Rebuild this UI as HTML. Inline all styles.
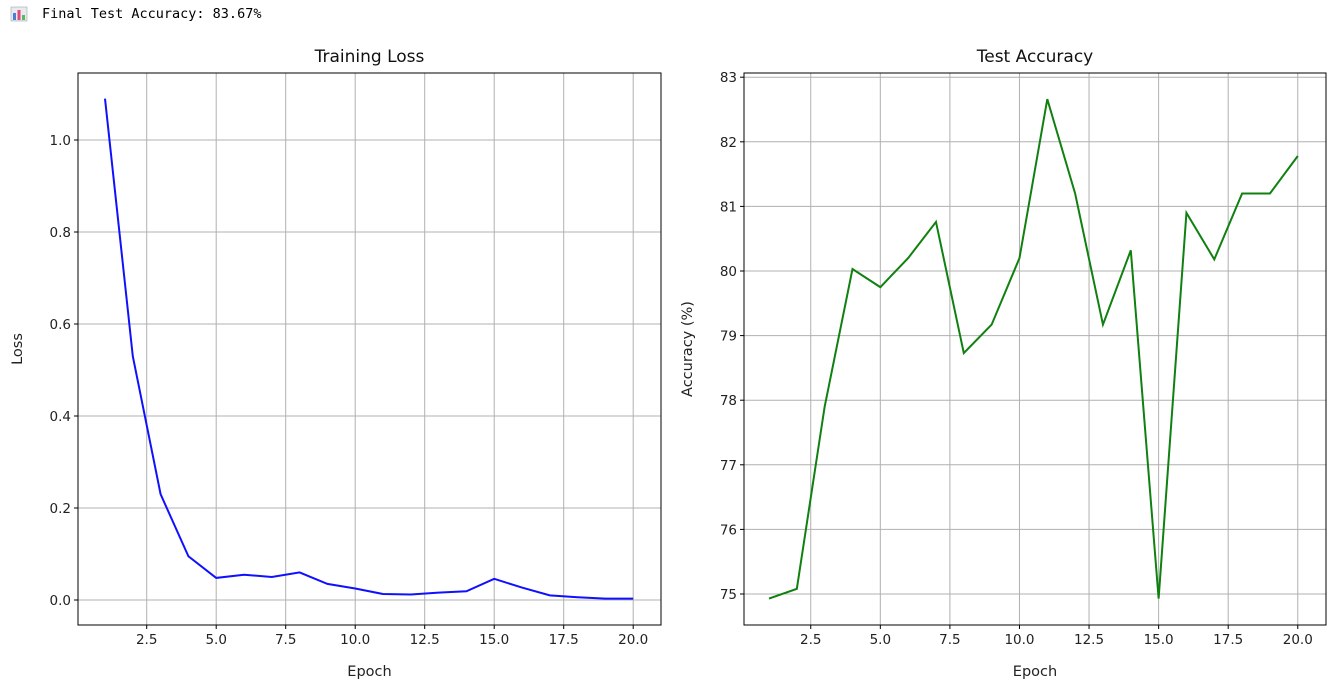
<!DOCTYPE html>
<html><head><meta charset="utf-8"><style>
body{margin:0;background:#fff;width:1328px;height:685px;overflow:hidden;font-family:"DejaVu Sans","Liberation Sans",sans-serif}
#hdr{position:absolute;left:10px;top:6px;font-family:"DejaVu Sans Mono","Liberation Mono",monospace;font-size:13.5px;color:#000;display:flex;align-items:center}
</style></head><body>
<div id="hdr">
<svg width="18" height="16"><rect x="1" y="1" width="16" height="14" fill="#e8eaf0" stroke="#9aa" stroke-width="0.6"/><rect x="3" y="7" width="3" height="7" fill="#4a7fd6"/><rect x="7.5" y="4" width="3" height="10" fill="#e04a7a"/><rect x="12" y="9" width="3" height="5" fill="#5bb85b"/></svg>
<span style="margin-left:14px">Final Test Accuracy: 83.67%</span></div>
<svg id="c" width="1328" height="685" style="position:absolute;left:0;top:0"></svg>
<script>
const epochs=[1,2,3,4,5,6,7,8,9,10,11,12,13,14,15,16,17,18,19,20];
const lossValues=[1.09,0.53,0.23,0.095,0.048,0.055,0.05,0.06,0.035,0.025,0.013,0.012,0.016,0.019,0.046,0.027,0.01,0.006,0.003,0.003];
const accValues=[74.93,75.08,77.9,80.03,79.75,80.2,80.76,78.73,79.17,80.2,82.66,81.2,79.17,80.32,74.93,80.9,80.18,81.2,81.2,81.78];
const xTicks=[2.5,5.0,7.5,10.0,12.5,15.0,17.5,20.0];
const lossTicks=[0.0,0.2,0.4,0.6,0.8,1.0];
const accTicks=[75,76,77,78,79,80,81,82,83];
const svg=document.getElementById('c');const NS='http://www.w3.org/2000/svg';
function mk(t,a,txt){const e=document.createElementNS(NS,t);for(const k in a)e.setAttribute(k,a[k]);if(txt!==undefined)e.textContent=txt;svg.appendChild(e);return e;}
function chart(o){
 const sx=v=>o.x1+(v-1)*o.ux;const sy=v=>o.y0-(v-o.v0)*o.uy;
 xTicks.forEach(t=>{const l=mk('line',{x1:sx(t),x2:sx(t),y1:o.top,y2:o.bot,stroke:'#b0b0b0','stroke-width':1});
  mk('line',{x1:sx(t),x2:sx(t),y1:o.bot,y2:o.bot+4,stroke:'#000'});
  const tx=mk('text',{x:sx(t),y:o.bot+19,'text-anchor':'middle','font-size':13.5,fill:'#222'},t.toFixed(1));});
 o.yt.forEach(t=>{const l=mk('line',{x1:o.left,x2:o.right,y1:sy(t),y2:sy(t),stroke:'#b0b0b0','stroke-width':1});
  mk('line',{x1:o.left-4,x2:o.left,y1:sy(t),y2:sy(t),stroke:'#000'});
  const tx=mk('text',{x:o.left-7,y:sy(t)+5,'text-anchor':'end','font-size':13.5,fill:'#222'},o.fmt(t));});
 const p=mk('polyline',{points:epochs.map((e,i)=>sx(e)+','+sy(o.data[i])).join(' '),fill:'none',stroke:o.color,'stroke-width':2});
 
 const r=mk('rect',{x:o.left,y:o.top,width:o.right-o.left,height:o.bot-o.top,fill:'none',stroke:'#000','stroke-width':1});
 const ti=mk('text',{x:(o.left+o.right)/2,y:o.top-11,'text-anchor':'middle','font-size':17,fill:'#111'},o.title);
 const xl=mk('text',{x:(o.left+o.right)/2,y:o.bot+51,'text-anchor':'middle','font-size':14.5,fill:'#222'},'Epoch');
 const cy=(o.top+o.bot)/2;const yl=mk('text',{x:o.ylx,y:cy,'text-anchor':'middle','font-size':14.5,fill:'#222',transform:`rotate(-90 ${o.ylx} ${cy})`},o.ylabel);
}
chart({left:78,right:661,top:73,bot:625,x1:105,ux:27.8,y0:600,v0:0,uy:460,yt:lossTicks,fmt:v=>v.toFixed(1),data:lossValues,color:'#1010ff',title:'Training Loss',ylabel:'Loss',ylx:22,name:'loss'});
chart({left:744,right:1326,top:73,bot:625,x1:769,ux:27.83,y0:594,v0:75,uy:64.6,yt:accTicks,fmt:v=>String(v),data:accValues,color:'#108010',title:'Test Accuracy',ylabel:'Accuracy (%)',ylx:692,name:'accuracy'});
</script>
</body></html>
